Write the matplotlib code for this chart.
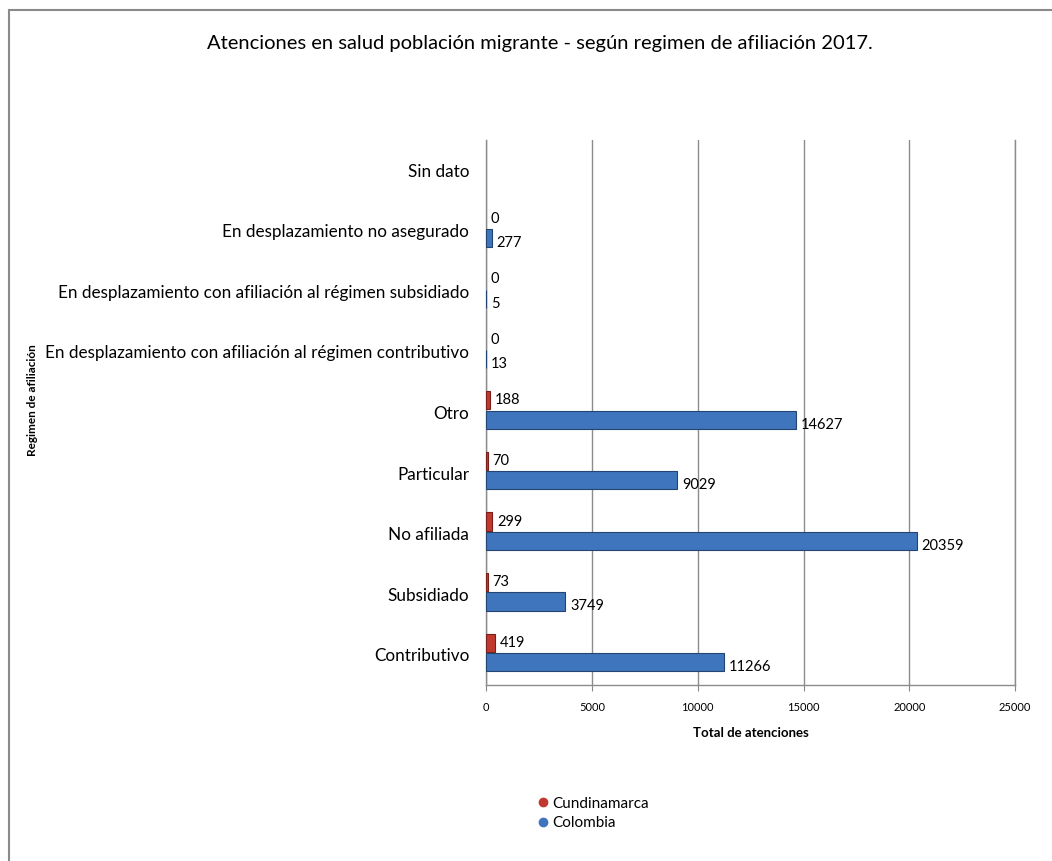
import numpy as np
import matplotlib
matplotlib.use('Agg')
import matplotlib.pyplot as plt
from matplotlib.lines import Line2D
from matplotlib.patches import Rectangle

plt.rcParams['font.family'] = ['Lato', 'DejaVu Sans']

categorias = ['Contributivo', 'Subsidiado', 'No afiliada', 'Particular', 'Otro',
              'En desplazamiento con afiliación al régimen contributivo',
              'En desplazamiento con afiliación al régimen subsidiado',
              'En desplazamiento no asegurado', 'Sin dato']
cundinamarca = [419, 73, 299, 70, 188, 0, 0, 0, np.nan]
colombia = [11266, 3749, 20359, 9029, 14627, 13, 5, 277, np.nan]

rojo = '#c0392f'
azul = '#3f75bd'

fig = plt.figure(figsize=(10.52, 8.61), dpi=100)
ax = fig.add_axes([0.462, 0.2044, 0.503, 0.633])

y = np.arange(len(categorias))
h = 0.3
bordes_r = ['#7a1f1a' if v > 0 else 'none' for v in np.nan_to_num(cundinamarca)]
bordes_a = ['#24456f' if v > 0 else 'none' for v in np.nan_to_num(colombia)]
ax.barh(y + 0.2, cundinamarca, height=h, color=rojo, edgecolor=bordes_r, linewidth=0.8, zorder=3)
ax.barh(y - 0.12, colombia, height=h, color=azul, edgecolor=bordes_a, linewidth=0.8, zorder=4)

for yi, v in zip(y, cundinamarca):
    if not np.isnan(v):
        ax.text(v + 220, yi + 0.2, f'{int(v)}', va='center', ha='left', fontsize=10.5, zorder=5)
for yi, v in zip(y, colombia):
    if not np.isnan(v):
        ax.text(v + 220, yi - 0.12 - 0.08, f'{int(v)}', va='center', ha='left', fontsize=10.5, zorder=5)

ax.set_xlim(0, 25000)
ax.set_ylim(-0.5, len(categorias) - 0.5)
ax.set_xticks(range(0, 25001, 5000))
ax.tick_params(axis='x', labelsize=8, length=4, color='#888888', pad=8)
ax.tick_params(axis='y', length=0, pad=12, labelsize=12.3)
ax.set_yticks(y)
ax.set_yticklabels(categorias)
ax.grid(axis='x', color='#8c8c8c', linewidth=1, zorder=0)
ax.spines['top'].set_visible(False)
for s in ['left', 'bottom', 'right']:
    ax.spines[s].set_color('#8c8c8c')
    ax.spines[s].set_linewidth(1)

ax.set_xlabel('Total de atenciones', fontsize=9.5, fontweight='bold', labelpad=10)
fig.text(33 / 1052, 1 - 400 / 861, 'Regimen de afiliación', rotation=90, fontsize=8.5,
         fontweight='bold', ha='center', va='center')

fig.text(540 / 1052, 1 - 43 / 861,
         'Atenciones en salud población migrante - según regimen de afiliación 2017.',
         fontsize=14.5, ha='center', va='center')

handles = [Line2D([], [], marker='o', linestyle='', color=rojo, markersize=6),
           Line2D([], [], marker='o', linestyle='', color=azul, markersize=6)]
fig.legend(handles, ['Cundinamarca', 'Colombia'], loc='upper left',
           bbox_to_anchor=(522 / 1052, 1 - 783 / 861), frameon=False, fontsize=11,
           handletextpad=0.1, handlelength=1, labelspacing=0.35)

fig.add_artist(Rectangle((9 / 1052, -0.1), 1.2, 1.1 - 10 / 861, transform=fig.transFigure,
                         fill=False, edgecolor='#8a8a8a', linewidth=1.5))

fig.savefig('out.png', dpi=100)
